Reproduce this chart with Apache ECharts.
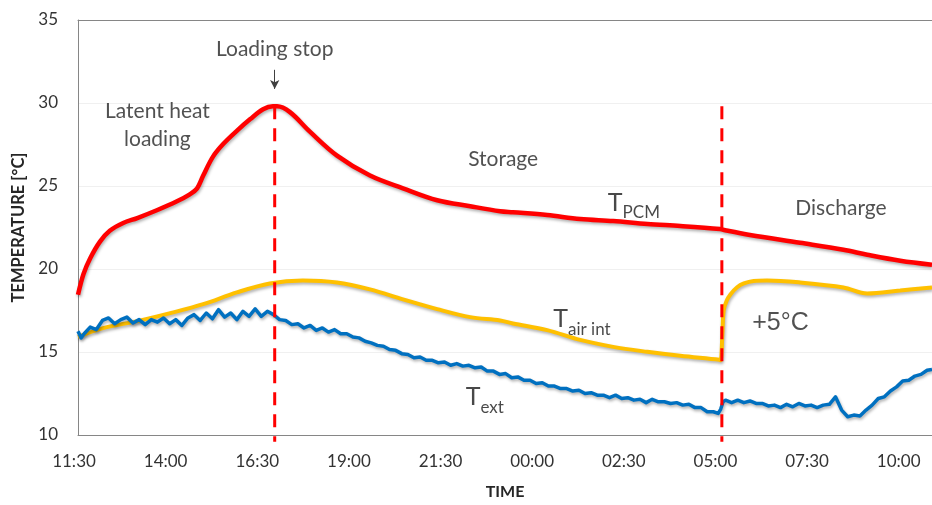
<!DOCTYPE html>
<html>
<head>
<meta charset="utf-8">
<script src="https://cdn.jsdelivr.net/npm/echarts@6/dist/echarts.min.js"></script>
<style>
html,body{margin:0;padding:0;background:#fff;}
#c{width:932px;height:505px;}
</style>
</head>
<body>
<div id="c"></div>
<script>
// x values are minutes after 11:30
const tickLabels = ['11:30','14:00','16:30','19:00','21:30','00:00','02:30','05:00','07:30','10:00'];
const loadingStop = 322;
const dischargeStart = 1054;

const tPCM = [[0,18.45],[9,19.7],[20,20.65],[36,21.65],[52,22.3],[74,22.77],[97,23.07],[129,23.54],[162,24.08],[183,24.5],[195,24.86],[205,25.63],[221,26.77],[238,27.54],[260,28.32],[282,29.03],[303,29.62],[319,29.8],[326,29.8],[347,29.45],[380,28.26],[424,26.83],[478,25.63],[532,24.86],[588,24.14],[642,23.78],[691,23.48],[712,23.42],[768,23.25],[822,23.01],[876,22.89],[932,22.71],[986,22.59],[1051,22.41],[1056,22.36],[1100,22.05],[1182,21.58],[1253,21.16],[1292,20.86],[1346,20.5],[1398,20.26]];

const tAirInt = [[0,15.91],[41,16.44],[97,16.86],[151,17.34],[205,17.88],[260,18.59],[314,19.13],[368,19.31],[424,19.19],[478,18.77],[532,18.17],[588,17.58],[642,17.1],[691,16.9],[712,16.72],[768,16.32],[822,15.73],[876,15.31],[932,15.01],[986,14.77],[1050,14.53],[1052,14.5],[1055,16.2],[1057,17.5],[1062,18.1],[1068,18.47],[1079,18.9],[1090,19.13],[1106,19.28],[1128,19.31],[1182,19.19],[1253,18.89],[1292,18.53],[1346,18.71],[1398,18.89]];

const tExt = [[0,16.25],[5,15.85],[10,16.1],[20,16.5],[30,16.35],[40,16.9],[50,17.05],[60,16.7],[70,16.95],[80,17.1],[90,16.75],[100,16.95],[110,16.65],[120,16.95],[130,16.8],[140,17.05],[150,16.7],[160,16.95],[170,16.6],[180,17.05],[190,17.25],[200,16.9],[210,17.35],[220,17.0],[230,17.55],[240,17.1],[250,17.35],[260,16.95],[270,17.45],[280,17.15],[290,17.6],[300,17.15],[310,17.45],[320,17.25],[330,16.95],[340,16.9],[350,16.65],[360,16.7],[370,16.45],[380,16.6],[390,16.3],[400,16.45],[410,16.2],[420,16.35],[430,16.1],[440,16.1],[450,15.9],[460,15.85],[470,15.65],[480,15.55],[490,15.4],[500,15.35],[510,15.15],[520,15.1],[530,14.9],[540,14.85],[550,14.65],[560,14.7],[570,14.5],[580,14.5],[590,14.35],[600,14.4],[610,14.2],[620,14.3],[630,14.15],[640,14.2],[650,14.05],[660,14.1],[670,13.85],[680,13.85],[690,13.65],[700,13.7],[710,13.45],[720,13.5],[730,13.3],[740,13.3],[750,13.1],[760,13.15],[770,12.95],[780,12.95],[790,12.8],[800,12.8],[810,12.65],[820,12.7],[830,12.5],[840,12.55],[850,12.4],[860,12.4],[870,12.25],[880,12.4],[890,12.2],[900,12.25],[910,12.1],[920,12.15],[930,11.95],[940,12.15],[950,12.0],[960,12.0],[970,11.9],[980,11.95],[990,11.8],[1000,11.85],[1010,11.65],[1020,11.65],[1030,11.4],[1040,11.4],[1048,11.3],[1052,11.55],[1056,12.0],[1060,12.1],[1070,11.95],[1080,12.1],[1090,11.95],[1100,12.05],[1110,11.9],[1120,11.9],[1130,11.75],[1140,11.8],[1150,11.65],[1160,11.85],[1170,11.7],[1180,11.9],[1190,11.75],[1200,11.8],[1210,11.65],[1220,11.8],[1230,11.85],[1240,12.3],[1250,11.5],[1260,11.1],[1270,11.2],[1280,11.15],[1290,11.5],[1300,11.8],[1310,12.2],[1320,12.3],[1330,12.65],[1340,12.9],[1350,13.25],[1360,13.3],[1370,13.55],[1380,13.65],[1390,13.9],[1398,13.95]];

const FONT = 'Lato';
const TXT = '#333333';
const ANN = '#262626';
const shadow = {shadowColor:'rgba(0,0,0,0.3)', shadowBlur:3, shadowOffsetX:1, shadowOffsetY:2};

const chart = echarts.init(document.getElementById('c'), null, {renderer:'canvas'});

function ann(x, y, formatter, extra) {
  return Object.assign({value:[x,y], label:{show:true, formatter:formatter}}, extra || {});
}

const option = {
  animation:false,
  backgroundColor:'#fff',
  textStyle:{fontFamily:FONT},
  grid:{left:78, right:0, top:20, bottom:66, containLabel:false},
  xAxis:[{
    type:'value', min:0, max:1398, interval:150,
    axisLine:{show:true, lineStyle:{color:'#868686', width:1}},
    axisTick:{show:false},
    splitLine:{show:false},
    axisLabel:{
      fontFamily:FONT, fontSize:17, color:TXT, margin:18, showMaxLabel:false,
      rich:{s:{width:8}},
      formatter:function(v){ const i = Math.round(v/150); return (Math.abs(v - i*150) < 0.01 && tickLabels[i]) ? tickLabels[i] + '{s|}' : ''; }
    },
    name:'TIME', nameLocation:'middle', nameGap:49,
    nameTextStyle:{fontFamily:FONT, fontWeight:'bold', fontSize:16, color:'#262626'}
  },{
    type:'value', min:0, max:1398, position:'top',
    axisLine:{show:true, lineStyle:{color:'#868686', width:1}},
    axisTick:{show:false}, axisLabel:{show:false}, splitLine:{show:false}
  }],
  yAxis:{
    type:'value', min:10, max:35, interval:5,
    axisLine:{show:true, lineStyle:{color:'#868686', width:1}},
    axisTick:{show:false},
    splitLine:{show:true, lineStyle:{color:'#f0f0f0', width:1}},
    axisLabel:{fontFamily:FONT, fontSize:17, color:TXT, margin:20},
    name:'TEMPERATURE [°C]', nameLocation:'middle', nameRotate:90, nameGap:48,
    nameTextStyle:{fontFamily:FONT, fontWeight:'bold', fontSize:16.5, color:'#262626'}
  },
  series:[
    {type:'line', name:'T air int', data:tAirInt, showSymbol:false, smooth:0.35,
      lineStyle:Object.assign({color:'#FFC000', width:4}, shadow), z:2},
    {type:'line', name:'T ext', data:tExt, showSymbol:false, smooth:false,
      lineStyle:Object.assign({color:'#0070C0', width:3.5, join:'round'}, shadow), z:3},
    {type:'line', name:'T PCM', data:tPCM, showSymbol:false, smooth:0.35,
      lineStyle:Object.assign({color:'#FF0000', width:4.5}, shadow), z:4},
    {type:'line', name:'stop', data:[[loadingStop,29.8],[loadingStop,9.6]], showSymbol:false, clip:false,
      lineStyle:{color:'#FF0000', width:3, type:[13,9]}, z:5},
    {type:'line', name:'discharge', data:[[dischargeStart,29.8],[dischargeStart,9.6]], showSymbol:false, clip:false,
      lineStyle:{color:'#FF0000', width:3, type:[13,9]}, z:5},
    {type:'scatter', name:'annotations', symbolSize:0, z:6, silent:true,
      label:{show:true, position:'inside', color:ANN, fontFamily:FONT, fontSize:21, align:'center', verticalAlign:'middle'},
      markLine:{silent:true, symbol:['none','arrow'], symbolSize:[7,9],
        lineStyle:{color:'#404040', width:1, type:'solid'}, label:{show:false},
        data:[[{coord:[loadingStop,32.0]},{coord:[loadingStop,30.85]}]]},
      data:[
        ann(loadingStop, 33.21, 'Loading stop'),
        ann(130, 28.68, 'Latent heat\nloading', {label:{show:true, lineHeight:28, formatter:'Latent heat\nloading'}}),
        ann(696, 26.59, 'Storage'),
        ann(1249, 23.66, 'Discharge'),
        ann(910, 24.0, '{a|T}{b|PCM}'),
        ann(825, 16.98, '{a|T}{b|air int}'),
        ann(666, 12.27, '{a|T}{b|ext}'),
        ann(1150, 16.74, '+5°C', {label:{show:true, formatter:'+5°C', fontFamily:'Liberation Sans', fontSize:25}})
      ].map(function(d){
        d.label.rich = {
          a:{fontFamily:FONT, fontSize:25, lineHeight:25, color:'#1a1a1a', verticalAlign:'top'},
          b:{fontFamily:FONT, fontSize:17, lineHeight:17, color:'#1a1a1a', verticalAlign:'top', padding:[14,0,0,0]}
        };
        return d;
      })
    }
  ]
};
chart.setOption(option);
</script>
</body>
</html>
